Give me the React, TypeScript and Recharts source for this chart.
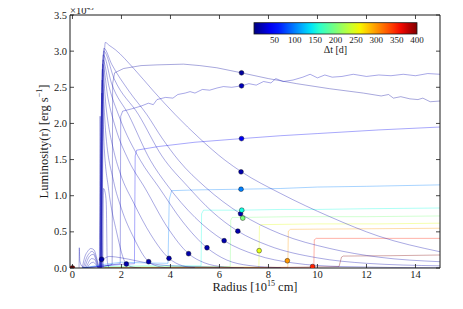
import React from "react";
import { ComposedChart, Line, Scatter, XAxis, YAxis } from "recharts";

type Pt = [number, number];

const FONT = "'Liberation Serif', 'DejaVu Serif', serif";
const INK = "#1a1a1a";
const W = 455;
const H = 301;

// luminosity profiles at early epochs (radius [1e15 cm], L [1e43 erg/s])
const profile1: Pt[] = [[1.2, 0], [1.27, 2.4], [1.34, 3.12], [1.5, 3.08], [1.75, 3.02], [2.5, 2.76], [3.3, 2.45], [4.2, 2.12], [5.2, 1.79], [6.23, 1.49], [6.9, 1.33], [8.5, 1.03], [10.5, 0.71], [12.5, 0.44], [15, 0.225]];
const profile2: Pt[] = [[1.19, 0], [1.28, 3.04], [1.6, 2.82], [2.3, 2.45], [3.04, 2.12], [3.65, 1.8], [4.33, 1.49], [5.42, 1.12], [6.86, 0.75], [8.5, 0.47], [10.5, 0.27], [12.5, 0.15], [15, 0.087]];
const profile3: Pt[] = [[1.18, 0], [1.27, 3.0], [1.7, 2.62], [2.7, 2.12], [3.65, 1.55], [4.7, 1.13], [5.7, 0.78], [6.75, 0.51], [8, 0.31], [10, 0.14], [12, 0.065], [15, 0.03]];
const profile4: Pt[] = [[1.17, 0], [1.25, 2.95], [1.6, 2.55], [2.29, 2.12], [3.18, 1.49], [3.86, 1.15], [5.0, 0.7], [6.19, 0.378], [7.5, 0.18], [9, 0.07], [11, 0.02], [15, 0.002]];
const profile5: Pt[] = [[1.16, 0], [1.24, 2.88], [1.5, 2.5], [1.9, 2.1], [2.77, 1.49], [3.52, 1.12], [4.5, 0.64], [5.49, 0.28], [6.3, 0.11], [7.2, 0.035], [8.5, 0.005]];
const profile6: Pt[] = [[1.15, 0], [1.23, 2.82], [1.45, 2.35], [1.75, 1.95], [2.29, 1.49], [2.97, 1.1], [3.9, 0.55], [4.74, 0.198], [5.4, 0.07], [6.2, 0.015], [7, 0]];
const profile7: Pt[] = [[1.14, 0], [1.22, 2.75], [1.38, 2.2], [1.7, 1.6], [1.96, 1.3], [2.5, 0.9], [3.2, 0.46], [3.94, 0.134], [4.5, 0.03], [5, 0.005]];
const profile8: Pt[] = [[1.13, 0], [1.21, 2.6], [1.35, 1.9], [1.68, 1.2], [2.0, 0.82], [2.5, 0.42], [3.11, 0.087], [3.6, 0.015], [4, 0]];
const profile9: Pt[] = [[1.12, 0], [1.2, 2.42], [1.3, 1.65], [1.47, 1.1], [1.8, 0.5], [2.2, 0.055], [2.5, 0.01], [2.8, 0]];
const profile10: Pt[] = [[1.1, 0], [1.15, 0.12], [1.19, 0.12], [1.5, 0.16], [2.0, 0.14], [2.6, 0.1], [3.2, 0.06], [4.0, 0.03], [5, 0.02], [6, 0.01]];
const profile11: Pt[] = [[1.24, 0], [1.27, 1.1], [1.33, 1.05], [1.38, 0.9], [1.42, 0.1], [1.5, 0]];
const profile12: Pt[] = [[1.1, 0], [1.13, 2.1], [1.16, 1.2], [1.2, 0.4], [1.26, 0]];

// inner structure near the core
const core1: Pt[] = [[0.27, 0], [0.28, 0.28], [0.3, 0.1], [0.4, 0.02], [0.6, 0]];
const core2: Pt[] = [[0.4, 0], [0.5, 0.15], [0.62, 0.23], [0.75, 0.27], [0.88, 0.25], [0.98, 0.15], [1.08, 0]];
const core3: Pt[] = [[0.45, 0], [0.55, 0.12], [0.68, 0.2], [0.8, 0.23], [0.92, 0.18], [1.02, 0.07], [1.08, 0]];
const core4: Pt[] = [[0.5, 0], [0.6, 0.1], [0.72, 0.17], [0.85, 0.19], [0.95, 0.12], [1.05, 0]];
const core5: Pt[] = [[0.55, 0], [0.66, 0.08], [0.78, 0.13], [0.9, 0.12], [1.0, 0.04], [1.06, 0]];
const core6: Pt[] = [[0.6, 0], [0.72, 0.06], [0.85, 0.08], [0.95, 0.05], [1.04, 0]];

// profiles after the shock has passed (one per delay)
const shellA: Pt[] = [[0.4, 0], [1.3, 0.02], [1.62, 0.05], [1.64, 2.55], [1.72, 2.7], [2.09, 2.76], [2.8, 2.8], [3.45, 2.81], [4.53, 2.82], [5.2, 2.8], [5.89, 2.77], [6.9, 2.7], [8, 2.62], [9.15, 2.55], [10.5, 2.48], [11.87, 2.42], [12.6, 2.38], [12.9, 2.4], [13.1, 2.35], [13.4, 2.37], [13.77, 2.34], [14.1, 2.33], [14.3, 2.35], [14.6, 2.3], [15, 2.31]];
const shellB: Pt[] = [[0.4, 0], [1.3, 0.03], [1.95, 0.06], [1.97, 2.1], [2.05, 2.17], [2.4, 2.2], [2.8, 2.24], [3.1, 2.28], [3.3, 2.26], [3.45, 2.33], [3.8, 2.36], [4.1, 2.35], [4.3, 2.4], [4.6, 2.42], [4.8, 2.44], [5.0, 2.42], [5.3, 2.47], [5.6, 2.46], [5.9, 2.49], [6.16, 2.51], [6.5, 2.5], [6.9, 2.52], [7.2, 2.55], [7.5, 2.53], [7.8, 2.58], [8.1, 2.56], [8.3, 2.62], [8.6, 2.58], [9.0, 2.6], [9.4, 2.64], [9.7, 2.68], [10.0, 2.63], [10.3, 2.67], [10.6, 2.64], [11.0, 2.65], [11.46, 2.68], [12.0, 2.65], [12.5, 2.67], [13.0, 2.66], [13.5, 2.68], [14.0, 2.66], [14.5, 2.69], [15, 2.68]];
const shellC: Pt[] = [[0.4, 0], [1.3, 0.03], [2.0, 0.05], [2.53, 0.06], [2.56, 1.55], [2.62, 1.63], [3.5, 1.68], [5.0, 1.74], [6.9, 1.79], [8.5, 1.83], [10, 1.86], [12.5, 1.91], [15, 1.95]];
const shellD: Pt[] = [[0.4, 0], [1.3, 0.05], [2.0, 0.08], [3.0, 0.07], [3.9, 0.065], [3.95, 0.95], [4.05, 1.07], [5, 1.08], [6.88, 1.09], [8.5, 1.1], [10, 1.12], [12, 1.13], [15, 1.15]];
const shellE: Pt[] = [[1.3, 0.02], [3, 0.03], [5.25, 0.03], [5.27, 0.75], [5.35, 0.8], [6.91, 0.8], [8.5, 0.81], [10, 0.81], [12, 0.82], [15, 0.83]];
const shellF: Pt[] = [[1.3, 0.01], [4, 0.02], [6.44, 0.02], [6.46, 0.66], [6.52, 0.7], [6.95, 0.7], [9, 0.71], [12, 0.71], [15, 0.72]];
const shellG: Pt[] = [[1.3, 0.01], [5, 0.01], [7.61, 0.01], [7.63, 0.58], [7.7, 0.6], [10, 0.61], [12.5, 0.61], [15, 0.62]];
const shellH: Pt[] = [[1.3, 0], [6, 0.01], [8.79, 0.01], [8.81, 0.51], [8.9, 0.535], [11, 0.54], [13, 0.545], [15, 0.55]];
const shellI: Pt[] = [[1.3, 0], [7, 0.005], [9.85, 0.005], [9.87, 0.39], [9.95, 0.41], [12, 0.41], [15, 0.41]];
const shellJ: Pt[] = [[1.3, 0], [8, 0.005], [10.88, 0.02], [10.98, 0.15], [11.05, 0.165], [13, 0.17], [15, 0.18]];

const shells = [shellA, shellB, shellC, shellD, shellE, shellF, shellG, shellH, shellI, shellJ];
const shellDt = [10, 20, 40, 100, 150, 200, 250, 300, 350, 400];
const profiles = [profile1, profile2, profile3, profile4, profile5, profile6, profile7, profile8, profile9, profile10, profile11, profile12];
const cores = [core1, core2, core3, core4, core5, core6];
const PROFILE_DT = 15;

// markers
const dotRadius = [1.19, 2.2, 3.11, 3.94, 4.74, 5.49, 6.19, 6.75, 6.86, 6.88, 6.9, 6.9, 6.9, 6.88, 6.91, 6.95, 7.62, 8.77, 9.8, 0.0];
const dotLum = [0.12, 0.055, 0.087, 0.134, 0.198, 0.28, 0.378, 0.51, 0.75, 1.33, 1.79, 2.52, 2.7, 1.09, 0.8, 0.69, 0.24, 0.1, 0.02, 0.0];
const dotDt = [15, 15, 15, 15, 15, 15, 15, 15, 15, 15, 40, 20, 10, 100, 150, 200, 250, 300, 350, 400];

const xTicks = [0, 2, 4, 6, 8, 10, 12, 14];
const yTicks = [0, 0.5, 1.0, 1.5, 2.0, 2.5, 3.0, 3.5];
const cbarTicks = [50, 100, 150, 200, 250, 300, 350, 400];
const DT_MAX = 400;

function jet(t: number) {
  const c = Math.min(1, Math.max(0, t));
  const seg = (pts: number[][]) => {
    for (let i = 1; i < pts.length; i++) {
      if (c <= pts[i][0]) {
        const [x0, y0] = pts[i - 1];
        const [x1, y1] = pts[i];
        return y0 + ((y1 - y0) * (c - x0)) / (x1 - x0);
      }
    }
    return pts[pts.length - 1][1];
  };
  const r = seg([[0, 0], [0.35, 0], [0.66, 1], [0.89, 1], [1, 0.5]]);
  const g = seg([[0, 0], [0.125, 0], [0.375, 1], [0.64, 1], [0.91, 0], [1, 0]]);
  const b = seg([[0, 0.5], [0.11, 1], [0.34, 1], [0.65, 0], [1, 0]]);
  return `rgb(${Math.round(r * 255)},${Math.round(g * 255)},${Math.round(b * 255)})`;
}

const rows = (pts: Pt[]) => pts.map(([x, y]) => ({ x, y }));
const dots = dotRadius.map((x, i) => ({ x, y: dotLum[i], dt: dotDt[i] }));

const BottomTick = (p: any) => (
  <g>
    <line x1={p.x} x2={p.x} y1={p.y} y2={p.y - 4} stroke={INK} strokeWidth={0.8} />
    <text x={p.x} y={p.y + 9.5} textAnchor="middle" fontSize={10.5} fontFamily={FONT} fill={INK}>
      {p.payload.value}
    </text>
  </g>
);
const LeftTick = (p: any) => (
  <g>
    <line x1={p.x} x2={p.x + 4} y1={p.y} y2={p.y} stroke={INK} strokeWidth={0.8} />
    <text x={p.x - 3} y={p.y + 3.5} textAnchor="end" fontSize={10.5} fontFamily={FONT} fill={INK}>
      {Number(p.payload.value).toFixed(1)}
    </text>
  </g>
);
const TopTick = (p: any) => <line x1={p.x} x2={p.x} y1={p.y} y2={p.y + 4} stroke={INK} strokeWidth={0.8} />;
const RightTick = (p: any) => <line x1={p.x} x2={p.x - 4} y1={p.y} y2={p.y} stroke={INK} strokeWidth={0.8} />;

const Dot = (p: any) => (
  <circle cx={p.cx} cy={p.cy} r={2.4} fill={jet(p.payload.dt / DT_MAX)} stroke="#000" strokeWidth={0.4} />
);

export default function App() {
  const cbX = 246;
  const cbY = 14.7;
  const cbW = 163;
  const cbH = 11.3;
  const stops = Array.from({ length: 21 }, (_, i) => i / 20);
  const lineColor = jet(PROFILE_DT / DT_MAX);
  return (
    <div style={{ position: "relative", width: W, height: H }}>
      <ComposedChart width={W} height={H} margin={{ top: 2, right: 13, bottom: 11, left: 22 }}>
        <XAxis
          dataKey="x"
          type="number"
          domain={[-0.1, 15]}
          ticks={xTicks}
          interval={0}
          allowDataOverflow
          height={30}
          tickSize={0}
          tickMargin={0}
          tick={BottomTick}
          axisLine={{ stroke: INK, strokeWidth: 1 }}
          label={{
            content: (lp: any) => {
              const vb = lp.viewBox;
              return (
                <text x={vb.x + vb.width / 2} y={vb.y + 22.5} textAnchor="middle" fontSize={12.5} fontFamily={FONT} fill={INK}>
                  Radius [10<tspan dy={-5} fontSize={8}>15</tspan>
                  <tspan dy={5}> cm]</tspan>
                </text>
              );
            },
          }}
        />
        <XAxis
          xAxisId="top"
          orientation="top"
          dataKey="x"
          type="number"
          domain={[-0.1, 15]}
          ticks={xTicks}
          interval={0}
          allowDataOverflow
          height={5}
          tickSize={0}
          tickMargin={0}
          tick={TopTick}
          axisLine={{ stroke: INK, strokeWidth: 1 }}
        />
        <YAxis
          type="number"
          domain={[0, 3.5]}
          ticks={yTicks}
          interval={0}
          allowDataOverflow
          width={40}
          tickSize={0}
          tickMargin={0}
          tick={LeftTick}
          axisLine={{ stroke: INK, strokeWidth: 1 }}
          label={{
            content: (lp: any) => {
              const vb = lp.viewBox;
              const cx = vb.x + 14;
              const cy = vb.y + vb.height / 2;
              return (
                <text x={cx} y={cy} transform={`rotate(-90, ${cx}, ${cy})`} textAnchor="middle" dominantBaseline="central" fontSize={12.5} fontFamily={FONT} fill={INK}>
                  Luminosity(r) [erg s<tspan dy={-5} fontSize={8}>−1</tspan>
                  <tspan dy={5}>]</tspan>
                </text>
              );
            },
          }}
        />
        <YAxis
          yAxisId="right"
          orientation="right"
          type="number"
          domain={[0, 3.5]}
          ticks={yTicks}
          interval={0}
          allowDataOverflow
          width={10}
          tickSize={0}
          tickMargin={0}
          tick={RightTick}
          axisLine={{ stroke: INK, strokeWidth: 1 }}
        />
        {cores.map((c, i) => (
          <Line key={`c${i}`} data={rows(c)} dataKey="y" type="monotone" stroke={lineColor} strokeOpacity={0.42} strokeWidth={0.8} dot={false} isAnimationActive={false} />
        ))}
        {shells.map((s, i) => (
          <Line key={`s${i}`} data={rows(s)} dataKey="y" type="linear" stroke={jet(shellDt[i] / DT_MAX)} strokeOpacity={0.38} strokeWidth={0.9} dot={false} isAnimationActive={false} />
        ))}
        {profiles.map((p, i) => (
          <Line key={`p${i}`} data={rows(p)} dataKey="y" type="monotone" stroke={lineColor} strokeOpacity={0.42} strokeWidth={0.8} dot={false} isAnimationActive={false} />
        ))}
        <Scatter data={dots} dataKey="y" shape={Dot} isAnimationActive={false} />
      </ComposedChart>
      <svg width={W} height={H} style={{ position: "absolute", left: 0, top: 0, pointerEvents: "none", overflow: "visible" }}>
        <defs>
          <linearGradient id="jetbar" x1="0" x2="1" y1="0" y2="0">
            {stops.map((s) => (
              <stop key={s} offset={s} stopColor={jet(s)} />
            ))}
          </linearGradient>
        </defs>
        <text x={62} y={6} fontSize={10.5} fontFamily={FONT} fill={INK}>
          ×10<tspan dy={-4} fontSize={7}>43</tspan>
        </text>
        <rect x={cbX} y={cbY} width={cbW} height={cbH} fill="url(#jetbar)" stroke={INK} strokeWidth={0.8} />
        {cbarTicks.map((t) => (
          <text key={t} x={cbX + (cbW * t) / DT_MAX} y={cbY + cbH + 8.5} textAnchor="middle" fontSize={9} fontFamily={FONT} fill={INK}>
            {t}
          </text>
        ))}
        <text x={cbX + cbW * 0.5} y={cbY + cbH + 19} textAnchor="middle" fontSize={10} fontFamily={FONT} fill={INK}>
          Δt [d]
        </text>
      </svg>
    </div>
  );
}
